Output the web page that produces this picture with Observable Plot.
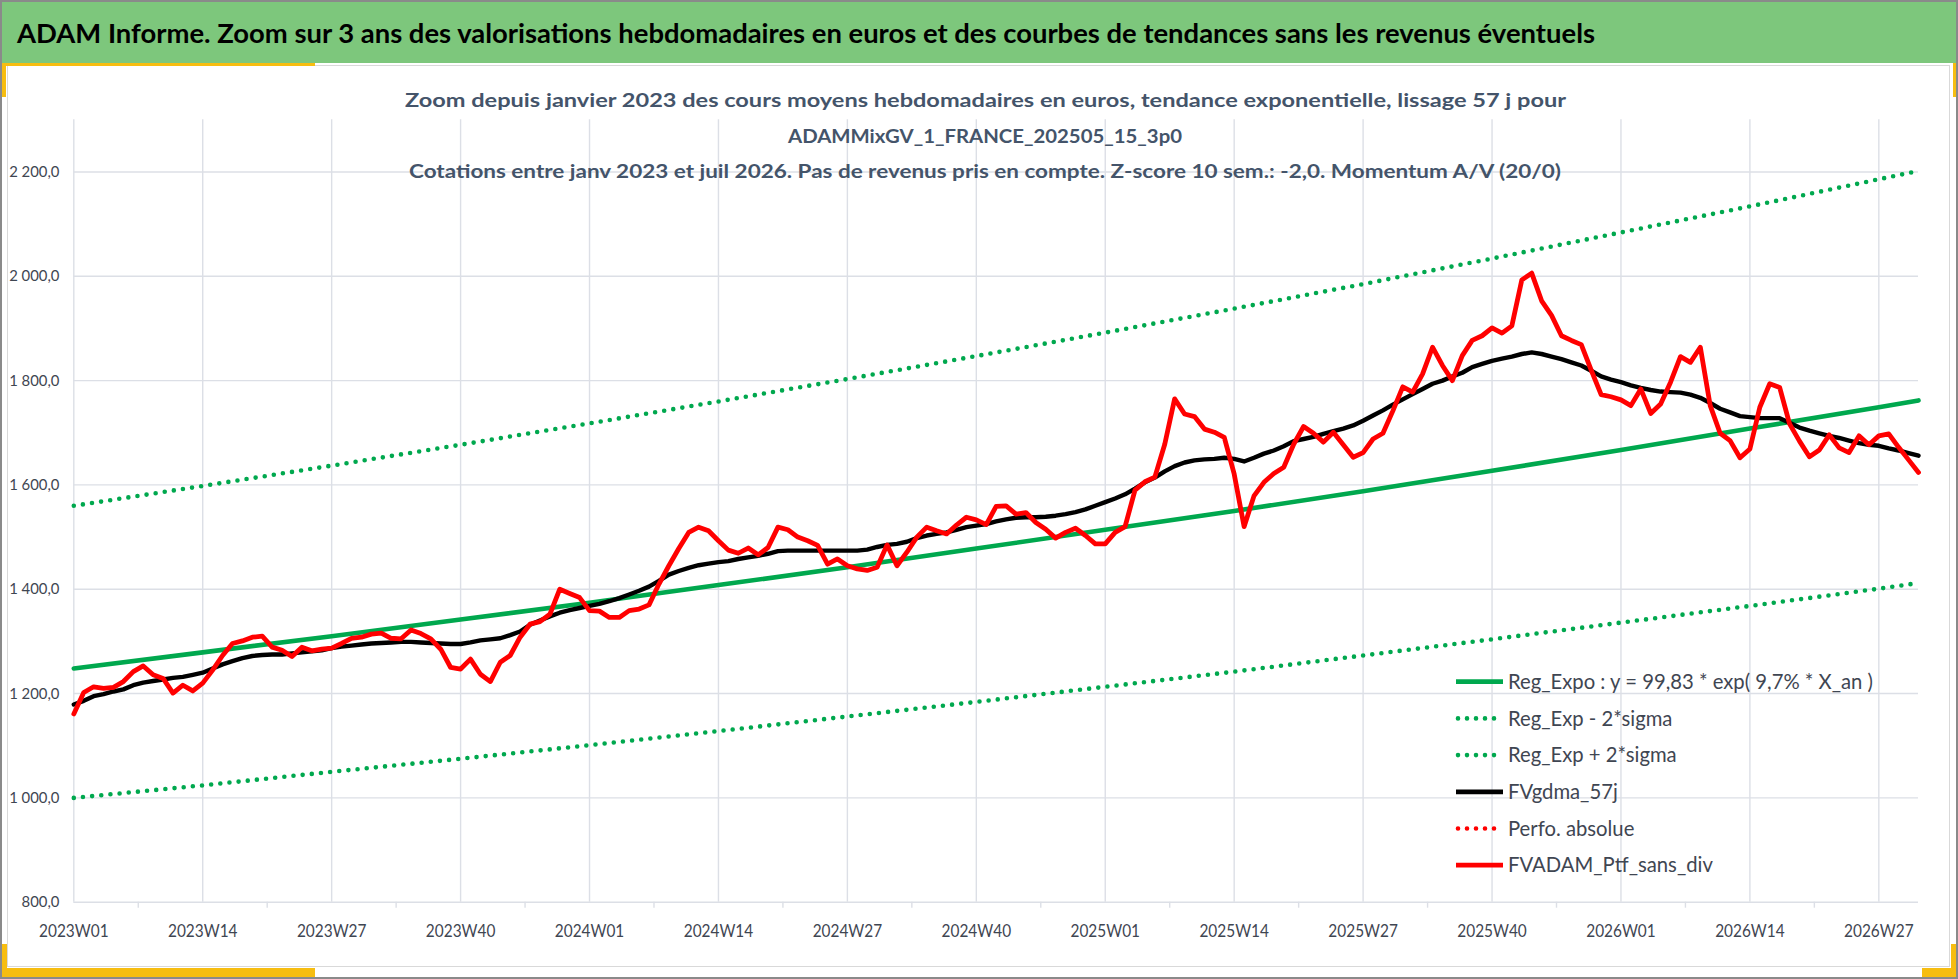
<!DOCTYPE html>
<html><head><meta charset="utf-8">
<script src="https://cdn.jsdelivr.net/npm/d3@7"></script>
<script src="https://cdn.jsdelivr.net/npm/@observablehq/plot@0.6"></script>
<style>
html,body{margin:0;padding:0;background:#fff;overflow:hidden;}
#page{position:relative;width:1958px;height:979px;overflow:hidden;background:#fff;font-family:Lato,"Open Sans",sans-serif;}
#header{position:absolute;left:0;top:0;width:1958px;height:63px;background:#7dc77c;}
#chart{position:absolute;left:0;top:63px;}
.abs{position:absolute;white-space:nowrap;line-height:1;}
.deco{position:absolute;}
</style></head>
<body><div id="page"><div id="header"></div><div id="chart"></div></div>
<script>
// ---------- DATA ----------
const titleText = "ADAM Informe. Zoom sur 3 ans des valorisations hebdomadaires en euros et des courbes de tendances sans les revenus éventuels";
const subtitleLines = [
  "Zoom depuis janvier 2023 des cours moyens hebdomadaires  en euros, tendance exponentielle, lissage 57 j pour",
  "ADAMMixGV_1_FRANCE_202505_15_3p0",
  "Cotations  entre janv 2023 et juil 2026. Pas de revenus pris en compte. Z-score 10 sem.: -2,0. Momentum A/V (20/0)"
];
const tickLabels = ["2023W01","2023W14","2023W27","2023W40","2024W01","2024W14","2024W27","2024W40","2025W01","2025W14","2025W27","2025W40","2026W01","2026W14","2026W27"];
const tickWeeks = [0,13,26,39,52,65,78,91,104,117,130,143,156,169,182];
const yTicks = [800,1000,1200,1400,1600,1800,2000,2200];

// weekly values (week index 0 = 2023W01)
const ptfSansDiv = [
  1161,1202,1213,1210,1212,1223,1242,1253,1236,1229,1201,1216,1205,
  1220,1245,1273,1296,1301,1308,1310,1289,1283,1271,1289,1282,1285,
  1287,1296,1306,1308,1314,1316,1306,1305,1322,1315,1305,1285,1250,
  1247,1266,1237,1223,1260,1273,1308,1333,1338,1352,1400,1392,1384,
  1359,1358,1346,1346,1359,1362,1370,1410,1445,1478,1509,1519,1512,
  1493,1475,1469,1479,1466,1480,1519,1514,1500,1493,1484,1448,1458,
  1445,1439,1436,1442,1485,1445,1471,1500,1519,1512,1506,1523,1538,
  1533,1524,1559,1560,1544,1547,1528,1515,1498,1509,1517,1503,1487,
  1487,1509,1520,1590,1606,1615,1678,1765,1736,1731,1707,1701,1691,
  1621,1520,1579,1605,1622,1634,1678,1712,1699,1682,1701,1677,1653,
  1662,1688,1699,1742,1788,1778,1813,1864,1829,1800,1848,1877,1886,
  1901,1891,1905,1993,2006,1953,1925,1886,1877,1869,1820,1773,1769,
  1763,1752,1784,1737,1755,1797,1846,1835,1864,1752,1699,1685,1652,
  1669,1749,1794,1787,1717,1684,1654,1667,1696,1671,1662,1694,1677,
  1694,1698,1672,1648,1624
];
const gdma57j = [
  1179,1186,1195,1199,1204,1208,1216,1221,1224,1227,1230,1232,1236,
  1240,1248,1256,1262,1268,1272,1274,1275,1275,1277,1279,1281,1283,
  1287,1290,1292,1294,1296,1297,1298,1299,1299,1298,1297,1296,1295,
  1295,1298,1302,1304,1306,1312,1319,1332,1340,1348,1355,1360,1364,
  1368,1372,1377,1383,1390,1397,1405,1416,1428,1435,1441,1446,1449,
  1452,1454,1458,1461,1464,1468,1473,1474,1474,1474,1474,1474,1474,
  1474,1474,1476,1481,1485,1487,1491,1498,1503,1506,1509,1514,1519,
  1522,1525,1530,1534,1537,1538,1538,1539,1541,1544,1548,1553,1560,
  1567,1574,1582,1593,1605,1614,1626,1636,1643,1647,1649,1650,1652,
  1650,1645,1652,1660,1666,1674,1684,1688,1692,1698,1703,1708,1714,
  1723,1733,1743,1754,1764,1774,1784,1794,1800,1808,1815,1826,1832,
  1838,1842,1846,1851,1854,1851,1846,1841,1835,1829,1819,1808,1802,
  1797,1791,1786,1782,1779,1778,1777,1773,1767,1757,1746,1739,1732,
  1730,1728,1728,1728,1719,1710,1704,1699,1694,1690,1685,1680,1677,
  1675,1670,1666,1661,1656
];
// regression curves read at quarterly weeks
const regWeeks = [0,13,26,39,52,65,78,91,104,117,130,143,156,169,182,186];
const regExpo  = [1248,1279,1310,1342,1374,1408,1442,1478,1514,1550,1588,1627,1667,1708,1749,1762];
const regPlus  = [1560,1598,1637,1677,1718,1760,1803,1847,1892,1938,1985,2034,2084,2134,2186,2202];
const regMinus = [1000,1024,1050,1075,1101,1128,1156,1184,1213,1242,1273,1304,1336,1368,1401,1412];

const legendLabels = ["Reg_Expo : y = 99,83 * exp( 9,7% *  X_an )","Reg_Exp - 2*sigma","Reg_Exp + 2*sigma","FVgdma_57j","Perfo. absolue","FVADAM_Ptf_sans_div"];
const legendColors = ["#00a84e","#00a84e","#00a84e","#000000","#ff0000","#ff0000"];
const legendDotted = [false,true,true,false,true,false];

// ---------- STYLE ----------
const GREEN = "#00a84e", RED = "#ff0000", BLACK = "#000000";
const GRID = "#dcdfe6", TEXT = "#3f4652", SUB = "#44546a";

const page = document.getElementById("page");

function placeText(txt, o) {
  const s = document.createElement("span");
  s.className = "abs"; s.textContent = txt;
  s.style.fontSize = o.size + "px";
  s.style.fontWeight = o.weight || 400;
  s.style.color = o.color;
  s.style.top = (o.baseline - 0.887 * o.size) + "px";
  s.style.left = "0px";
  page.appendChild(s);
  const w = s.getBoundingClientRect().width;
  const width = o.width || (w * (o.k || 1));
  const k = width / w;
  const anchor = o.anchor || "start";
  const left = anchor === "start" ? o.x : anchor === "middle" ? o.x - width / 2 : o.x - width;
  s.style.left = left + "px";
  s.style.transformOrigin = "0 0";
  s.style.transform = `scaleX(${k})`;
  return k;
}
function deco(css) {
  const d = document.createElement("div");
  d.className = "deco";
  Object.assign(d.style, css);
  page.appendChild(d);
}

function draw() {
  const fmt = d3.formatLocale({decimal: ",", thousands: " ", grouping: [3], currency: ["", "€"]}).format(",.1f");
  const rows = arr => arr.map((v, i) => ({w: i, v}));
  const regRows = arr => arr.map((v, i) => ({w: regWeeks[i], v}));
  const minorTicks = tickWeeks.map(w => w + 6.5).filter(w => w <= ptfSansDiv.length - 1);
  const dots = {strokeDasharray: "0 9.2", strokeLinecap: "round", strokeWidth: 4.6};

  const svg = Plot.plot({
    width: 1958, height: 916,
    marginLeft: 73.3, marginRight: 40, marginTop: 56.3, marginBottom: 77.3,
    x: {domain: [0, ptfSansDiv.length - 1], label: null},
    y: {domain: [800, 2300], label: null},
    style: {fontFamily: "Lato, 'Open Sans', sans-serif", background: "transparent", color: TEXT},
    marks: [
      Plot.gridY(yTicks, {stroke: GRID, strokeOpacity: 1, strokeWidth: 1.4}),
      Plot.gridX(tickWeeks, {stroke: GRID, strokeOpacity: 1, strokeWidth: 1.4}),
      Plot.ruleX(minorTicks, {x: d => d, y1: 800, y2: 800, insetTop: 6, stroke: GRID, strokeWidth: 1.4}),
      Plot.axisX(tickWeeks, {tickFormat: d => tickLabels[tickWeeks.indexOf(d)], tickSize: 0, tickPadding: 22, fontSize: 18, fill: TEXT, label: null}),
      Plot.axisY(yTicks, {tickFormat: fmt, tickSize: 0, tickPadding: 14.3, fontSize: 16, fill: TEXT, label: null}),
      Plot.line(regRows(regMinus), {x: "w", y: "v", stroke: GREEN, ...dots}),
      Plot.line(regRows(regPlus), {x: "w", y: "v", stroke: GREEN, ...dots}),
      Plot.line(regRows(regExpo), {x: "w", y: "v", stroke: GREEN, strokeWidth: 4.6}),
      Plot.line(rows(gdma57j), {x: "w", y: "v", stroke: BLACK, strokeWidth: 4.4, strokeLinejoin: "round"}),
      Plot.line(rows(ptfSansDiv), {x: "w", y: "v", stroke: RED, strokeWidth: 4.8, strokeLinejoin: "round"})
    ]
  });
  document.getElementById("chart").appendChild(svg);

  // condense axis labels (Calibri-like narrow look)
  svg.querySelectorAll('g[aria-label="x-axis tick label"] text').forEach(t => {
    t.setAttribute("textLength", t.getComputedTextLength() * 0.855);
    t.setAttribute("lengthAdjust", "spacingAndGlyphs");
  });
  svg.querySelectorAll('g[aria-label="y-axis tick label"] text').forEach(t => {
    t.setAttribute("textLength", t.getComputedTextLength() * 0.93);
    t.setAttribute("lengthAdjust", "spacingAndGlyphs");
  });

  // title and subtitle
  placeText(titleText, {x: 17, baseline: 43.4, size: 26, weight: 700, color: "#000", width: 1578});
  const subW = [1161, 394, 1152];
  const subB = [107.5, 143, 178.5];
  subtitleLines.forEach((t, i) => placeText(t, {x: 985, anchor: "middle", baseline: subB[i], size: 19.5, weight: 700, color: SUB, width: subW[i]}));

  // legend
  const legY = [681.7, 718.4, 755.1, 791.8, 828.5, 865.2];
  const ls = document.createElementNS("http://www.w3.org/2000/svg", "svg");
  ls.setAttribute("width", 1958); ls.setAttribute("height", 979);
  ls.style.position = "absolute"; ls.style.left = "0"; ls.style.top = "0";
  page.appendChild(ls);
  let k = null;
  legendLabels.forEach((lab, i) => {
    const ln = document.createElementNS("http://www.w3.org/2000/svg", "line");
    ln.setAttribute("x1", legendDotted[i] ? 1458 : 1456);
    ln.setAttribute("x2", 1503);
    ln.setAttribute("y1", legY[i]); ln.setAttribute("y2", legY[i]);
    ln.setAttribute("stroke", legendColors[i]);
    ln.setAttribute("stroke-width", legendDotted[i] ? 4.6 : 4.8);
    if (legendDotted[i]) { ln.setAttribute("stroke-dasharray", "0 9"); ln.setAttribute("stroke-linecap", "round"); }
    ls.appendChild(ln);
    if (k === null) k = placeText(lab, {x: 1508, baseline: legY[i] + 7.3, size: 20.5, color: TEXT, width: 365});
    else placeText(lab, {x: 1508, baseline: legY[i] + 7.3, size: 20.5, color: TEXT, k});
  });

  // frame decorations
  deco({left: "7px", top: "65px", width: "1943px", height: "902px", border: "1.5px solid #d9d9d9", boxSizing: "border-box"});
  const GOLD = "#f7bd10";
  deco({left: "0px", top: "63px", width: "315px", height: "3px", background: GOLD});
  deco({left: "0px", top: "63px", width: "6px", height: "34px", background: GOLD});
  deco({left: "1953px", top: "63px", width: "5px", height: "34px", background: GOLD});
  deco({left: "0px", top: "944px", width: "7px", height: "35px", background: GOLD});
  deco({left: "0px", top: "968px", width: "315px", height: "11px", background: GOLD});
  deco({left: "1922px", top: "968px", width: "36px", height: "11px", background: GOLD});
  deco({left: "1951px", top: "944px", width: "7px", height: "35px", background: GOLD});
  deco({left: "0px", top: "0px", width: "1958px", height: "979px", border: "2px solid #8a8a8a", boxSizing: "border-box"});
}

(document.fonts && document.fonts.load
  ? Promise.all([document.fonts.load("700 26px Lato"), document.fonts.load("400 20px Lato")]).catch(() => {})
  : Promise.resolve()
).then(draw);
</script>
</body></html>
